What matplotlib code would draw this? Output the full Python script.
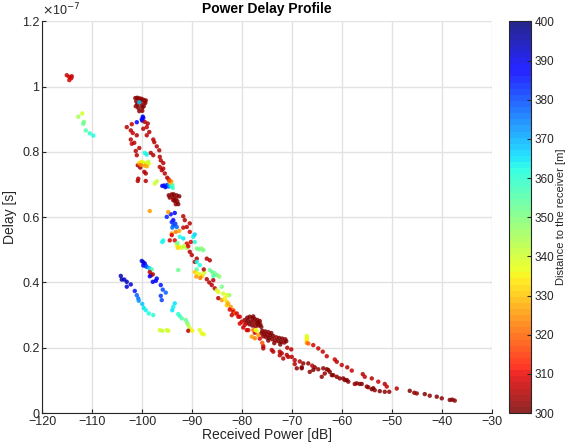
import matplotlib
matplotlib.use('Agg')
import matplotlib.pyplot as plt
import numpy as np

plt.rcParams['font.family'] = ['Liberation Sans', 'DejaVu Sans']

# (received power dB, delay x1e-7 s, distance m)
top_left = [(-115.1, 1.035, 307), (-114.6, 1.030, 307), (-114.2, 1.026, 307),
            (-114.6, 1.020, 308), (-114.1, 1.032, 307)]
green_trail = [(-112.8, 0.908, 345), (-112.0, 0.918, 340), (-111.7, 0.892, 350),
               (-111.8, 0.886, 352), (-111.3, 0.866, 356), (-110.5, 0.857, 360),
               (-109.8, 0.850, 362)]
top_cluster = [(-101.4, 0.965, 302), (-101.0, 0.966, 301), (-100.6, 0.964, 303),
               (-100.2, 0.963, 302), (-99.8, 0.960, 301), (-101.2, 0.955, 302),
               (-100.4, 0.956, 300), (-99.6, 0.954, 303), (-101.0, 0.946, 301),
               (-100.2, 0.945, 302), (-99.4, 0.950, 303), (-100.8, 0.935, 301),
               (-100.0, 0.936, 300), (-101.3, 0.940, 302), (-99.7, 0.940, 301),
               (-100.6, 0.925, 302), (-100.0, 0.926, 303), (-99.3, 0.958, 302),
               (-100.6, 0.952, 368)]
top_blue = [(-101.1, 0.891, 386), (-99.9, 0.908, 390), (-100.1, 0.900, 389),
            (-99.8, 0.904, 388), (-100.0, 0.896, 387)]
upper_red = [(-103.1, 0.876, 306), (-102.1, 0.885, 307), (-102.3, 0.866, 306),
             (-101.9, 0.858, 307), (-101.1, 0.851, 306), (-102.3, 0.838, 306),
             (-102.1, 0.825, 307), (-101.3, 0.803, 306), (-101.1, 0.790, 306),
             (-100.9, 0.759, 305), (-100.8, 0.718, 305), (-100.9, 0.711, 306),
             (-99.3, 0.711, 306), (-99.6, 0.739, 305), (-99.3, 0.734, 305),
             (-99.5, 0.892, 306), (-98.9, 0.887, 306), (-99.1, 0.876, 307),
             (-99.8, 0.871, 306), (-98.6, 0.861, 306), (-99.1, 0.851, 306),
             (-97.8, 0.838, 305), (-97.6, 0.830, 306), (-97.1, 0.817, 306),
             (-96.6, 0.805, 305), (-98.3, 0.797, 306), (-97.8, 0.790, 306),
             (-96.5, 0.785, 305), (-96.3, 0.774, 306), (-95.8, 0.766, 306),
             (-96.5, 0.754, 305), (-95.8, 0.749, 306), (-96.1, 0.744, 305),
             (-95.5, 0.734, 306), (-95.0, 0.721, 306), (-94.7, 0.715, 305),
             (-100.6, 0.812, 306), (-101.6, 0.828, 306), (-100.4, 0.752, 303)]
upper_mixed = [(-99.5, 0.797, 362), (-99.1, 0.792, 364),
               (-100.6, 0.766, 330), (-100.2, 0.770, 335), (-99.8, 0.768, 338),
               (-99.4, 0.764, 340), (-99.0, 0.766, 338), (-98.7, 0.764, 336),
               (-99.5, 0.758, 325), (-99.1, 0.756, 328), (-100.3, 0.760, 322),
               (-98.8, 0.770, 342), (-97.5, 0.703, 340), (-97.1, 0.710, 342)]
mid_blue = [(-96.0, 0.696, 388), (-95.6, 0.697, 386), (-95.2, 0.695, 383),
            (-95.0, 0.699, 380), (-94.7, 0.694, 375), (-94.5, 0.698, 370),
            (-94.2, 0.695, 362), (-94.0, 0.699, 355), (-94.4, 0.706, 330),
            (-94.2, 0.710, 325), (-94.6, 0.712, 318), (-93.9, 0.690, 358),
            (-95.4, 0.692, 385)]
mid_dark = [(-94.7, 0.667, 301), (-94.1, 0.670, 302), (-93.7, 0.670, 300),
            (-93.1, 0.667, 302), (-92.6, 0.664, 301), (-94.5, 0.660, 303),
            (-93.8, 0.660, 301), (-93.3, 0.657, 302), (-93.5, 0.650, 300),
            (-93.0, 0.649, 303), (-93.3, 0.640, 302), (-92.8, 0.640, 301),
            (-93.8, 0.652, 302)]
lower_blue = [(-94.3, 0.609, 385), (-93.5, 0.613, 388), (-95.1, 0.601, 383),
              (-93.8, 0.591, 386), (-94.1, 0.585, 384), (-93.4, 0.580, 382),
              (-93.8, 0.574, 380), (-93.1, 0.570, 378), (-94.0, 0.568, 376)]
middle_mix = [(-98.5, 0.619, 325), (-94.8, 0.616, 325), (-91.8, 0.603, 306),
              (-91.5, 0.591, 306), (-90.5, 0.581, 305), (-91.1, 0.570, 306),
              (-91.8, 0.568, 307), (-95.8, 0.529, 362), (-96.0, 0.524, 364),
              (-94.1, 0.550, 325), (-93.3, 0.555, 322), (-92.6, 0.558, 328),
              (-94.5, 0.529, 308), (-93.5, 0.529, 309), (-92.5, 0.540, 362),
              (-91.8, 0.535, 365), (-89.5, 0.524, 362), (-89.8, 0.540, 364),
              (-89.5, 0.547, 366), (-90.5, 0.555, 308), (-90.3, 0.524, 308),
              (-91.1, 0.519, 309), (-93.1, 0.514, 336), (-92.6, 0.510, 338),
              (-92.1, 0.506, 340), (-91.6, 0.512, 342), (-91.1, 0.506, 345),
              (-92.9, 0.506, 332), (-89.1, 0.504, 350), (-88.6, 0.502, 352),
              (-88.1, 0.504, 348), (-87.8, 0.499, 350), (-90.8, 0.511, 308),
              (-90.5, 0.494, 306), (-90.1, 0.484, 306), (-89.1, 0.473, 306),
              (-89.5, 0.463, 305), (-87.1, 0.473, 306), (-86.5, 0.468, 306),
              (-93.0, 0.521, 352), (-94.1, 0.545, 309)]
band_upper = [(-89.1, 0.463, 364), (-88.5, 0.453, 362), (-89.1, 0.440, 356),
              (-89.5, 0.432, 330), (-89.0, 0.428, 335), (-88.5, 0.425, 338),
              (-88.0, 0.420, 332), (-89.2, 0.418, 325), (-88.4, 0.414, 322),
              (-87.6, 0.430, 340), (-86.5, 0.438, 352), (-86.0, 0.432, 354),
              (-85.5, 0.428, 350), (-85.0, 0.422, 352), (-84.6, 0.418, 348),
              (-85.8, 0.420, 355), (-92.8, 0.438, 352), (-87.7, 0.440, 306),
              (-86.6, 0.400, 306), (-86.1, 0.392, 306), (-85.8, 0.407, 305),
              (-85.5, 0.382, 306), (-87.1, 0.410, 305), (-85.1, 0.376, 340),
              (-84.1, 0.387, 350), (-84.8, 0.371, 338), (-83.8, 0.366, 340),
              (-82.6, 0.361, 348), (-83.1, 0.361, 338), (-84.1, 0.346, 325),
              (-83.5, 0.351, 335), (-83.1, 0.341, 332), (-83.1, 0.330, 330),
              (-82.8, 0.335, 328), (-84.8, 0.352, 306), (-82.3, 0.325, 325),
              (-81.8, 0.315, 318), (-82.5, 0.317, 308), (-81.8, 0.310, 309),
              (-81.5, 0.305, 320)]
left_blue = [(-104.3, 0.420, 395), (-104.1, 0.409, 396), (-103.6, 0.409, 393),
             (-103.1, 0.402, 394), (-103.1, 0.387, 392), (-102.3, 0.394, 392),
             (-101.5, 0.374, 385), (-101.1, 0.361, 378), (-100.8, 0.351, 375),
             (-100.7, 0.344, 372), (-100.0, 0.334, 368), (-99.7, 0.322, 365),
             (-99.3, 0.315, 363), (-98.7, 0.305, 362), (-97.8, 0.300, 360)]
center_blue = [(-100.1, 0.466, 392), (-99.8, 0.462, 393), (-99.5, 0.458, 390),
               (-99.8, 0.452, 388), (-99.3, 0.450, 385), (-99.1, 0.448, 378),
               (-98.6, 0.444, 368), (-98.1, 0.440, 355), (-98.5, 0.432, 306),
               (-97.9, 0.425, 306), (-98.2, 0.422, 305), (-98.5, 0.419, 388),
               (-97.1, 0.412, 388), (-97.9, 0.402, 390), (-97.3, 0.405, 389),
               (-96.3, 0.392, 385), (-95.9, 0.378, 380), (-95.3, 0.369, 378),
               (-96.3, 0.359, 382), (-96.1, 0.346, 380)]
cyan_trail = [(-93.5, 0.336, 365), (-93.8, 0.325, 363), (-94.0, 0.315, 365),
              (-92.8, 0.303, 360), (-92.5, 0.297, 358), (-92.1, 0.290, 355),
              (-91.3, 0.285, 352), (-91.0, 0.276, 350), (-90.8, 0.269, 345),
              (-90.5, 0.259, 340), (-90.8, 0.252, 306), (-90.0, 0.252, 335),
              (-88.5, 0.254, 338), (-88.1, 0.244, 335), (-87.7, 0.241, 338),
              (-96.5, 0.254, 340), (-96.0, 0.252, 341), (-95.1, 0.254, 339),
              (-94.8, 0.252, 340)]
dense_a = [(-79.0, 0.292, 301), (-78.5, 0.295, 300), (-78.0, 0.290, 302),
           (-77.5, 0.288, 301), (-77.0, 0.285, 300), (-76.5, 0.282, 302),
           (-78.8, 0.283, 301), (-78.2, 0.280, 300), (-77.6, 0.278, 302),
           (-77.0, 0.275, 301), (-76.4, 0.272, 300), (-79.2, 0.276, 302),
           (-78.6, 0.272, 301), (-78.0, 0.268, 300), (-77.4, 0.266, 302),
           (-76.8, 0.268, 301), (-76.2, 0.264, 300), (-79.5, 0.285, 302),
           (-77.8, 0.296, 301), (-76.8, 0.278, 300)]
dense_b = [(-76.0, 0.252, 301), (-75.4, 0.250, 300), (-74.8, 0.248, 302),
           (-74.2, 0.245, 301), (-75.6, 0.242, 300), (-75.0, 0.240, 302),
           (-74.4, 0.238, 301), (-73.8, 0.236, 300), (-73.2, 0.232, 302),
           (-72.6, 0.230, 301), (-72.0, 0.228, 300), (-71.4, 0.226, 302),
           (-74.6, 0.230, 301), (-74.0, 0.226, 300), (-73.4, 0.222, 302),
           (-72.8, 0.220, 301), (-72.2, 0.218, 300), (-71.6, 0.216, 302),
           (-71.2, 0.220, 301), (-75.2, 0.232, 300), (-73.6, 0.214, 302),
           (-72.4, 0.210, 301), (-76.2, 0.244, 300), (-75.8, 0.235, 302),
           (-74.8, 0.222, 301)]
band_lower = [(-81.1, 0.305, 308), (-82.1, 0.300, 307), (-80.5, 0.295, 308),
              (-80.1, 0.280, 307), (-79.5, 0.270, 308), (-79.1, 0.254, 307),
              (-80.5, 0.274, 308), (-79.8, 0.262, 307), (-78.8, 0.254, 308),
              (-77.5, 0.246, 307), (-76.5, 0.228, 308), (-75.8, 0.205, 307),
              (-75.8, 0.198, 306), (-74.1, 0.193, 306), (-72.5, 0.188, 305),
              (-70.8, 0.172, 306), (-69.5, 0.162, 306), (-73.8, 0.188, 305),
              (-72.5, 0.177, 306), (-71.0, 0.200, 306), (-70.2, 0.195, 305),
              (-72.1, 0.183, 306), (-71.1, 0.178, 305), (-70.1, 0.172, 306),
              (-71.8, 0.167, 305), (-77.8, 0.254, 322), (-76.8, 0.239, 325),
              (-77.5, 0.229, 322), (-78.1, 0.234, 325), (-77.3, 0.254, 335),
              (-77.1, 0.252, 338), (-80.8, 0.295, 309), (-76.0, 0.215, 318)]
right_strand = [(-67.1, 0.236, 338), (-67.1, 0.230, 336), (-67.1, 0.224, 335),
                (-67.1, 0.215, 325), (-66.8, 0.213, 320), (-65.8, 0.208, 308),
                (-64.8, 0.198, 307), (-63.9, 0.188, 307), (-63.1, 0.174, 307),
                (-61.5, 0.164, 307), (-61.1, 0.157, 306), (-60.1, 0.147, 307),
                (-59.0, 0.140, 306), (-58.1, 0.130, 307), (-55.9, 0.119, 306),
                (-55.5, 0.111, 307), (-54.1, 0.106, 306), (-52.8, 0.096, 307),
                (-51.5, 0.089, 306), (-51.1, 0.081, 307), (-49.1, 0.075, 306)]
tail = [(-69.1, 0.137, 302), (-68.1, 0.137, 301), (-67.8, 0.152, 303),
        (-66.8, 0.152, 302), (-68.1, 0.140, 301), (-66.5, 0.126, 302),
        (-65.5, 0.140, 301), (-64.8, 0.134, 303), (-63.8, 0.137, 302),
        (-63.1, 0.134, 301), (-63.5, 0.121, 302), (-62.5, 0.126, 301),
        (-64.1, 0.111, 303), (-61.8, 0.116, 302), (-61.1, 0.111, 301),
        (-60.5, 0.106, 302), (-59.5, 0.101, 301), (-58.8, 0.096, 303),
        (-57.5, 0.089, 302), (-56.5, 0.089, 301), (-55.1, 0.081, 302),
        (-54.1, 0.073, 301), (-53.5, 0.070, 302), (-52.5, 0.067, 301),
        (-51.5, 0.065, 303), (-50.6, 0.065, 302), (-46.5, 0.068, 301),
        (-45.1, 0.060, 302), (-43.5, 0.058, 301), (-42.5, 0.053, 302),
        (-41.1, 0.050, 301), (-40.1, 0.045, 302), (-38.5, 0.040, 301),
        (-37.5, 0.038, 302), (-65.8, 0.132, 301), (-62.8, 0.132, 302),
        (-62.1, 0.116, 301), (-59.8, 0.106, 302), (-59.1, 0.101, 301),
        (-57.1, 0.091, 302), (-56.1, 0.089, 301), (-54.8, 0.079, 302),
        (-53.8, 0.076, 301), (-45.6, 0.062, 302), (-38.0, 0.041, 301),
        (-69.5, 0.150, 306), (-68.5, 0.158, 306), (-66.0, 0.145, 305)]

groups = [top_left, green_trail, top_cluster, top_blue, upper_red, upper_mixed,
          mid_blue, mid_dark, lower_blue, middle_mix, band_upper, left_blue,
          center_blue, cyan_trail, dense_a, dense_b, band_lower, right_strand,
          tail]
pts = np.array([p for g in groups for p in g])
power, delay, dist = pts[:, 0], pts[:, 1], pts[:, 2]

fig = plt.figure(figsize=(5.66, 4.43), dpi=100)
fig.patch.set_facecolor('white')
ax = fig.add_axes([0.0747, 0.0677, 0.795, 0.884])
cax = fig.add_axes([0.899, 0.0677, 0.040, 0.884])

sc = ax.scatter(power, delay, c=dist, cmap=plt.get_cmap('jet_r', 64),
                vmin=300, vmax=400, s=10, edgecolors='none', alpha=0.85, zorder=3)

ax.set_xlim(-120, -30)
ax.set_ylim(0, 1.2)
ax.set_xticks(np.arange(-120, -29, 10))
ax.set_yticks(np.arange(0, 1.21, 0.2))
ax.set_yticklabels(['0', '0.2', '0.4', '0.6', '0.8', '1', '1.2'])
ax.grid(True, color='#e2e2e2', lw=1)
ax.set_axisbelow(True)
ax.tick_params(direction='in', labelsize=9, length=3, pad=2, color='#262626',
               labelcolor='#262626')
for s in ['top', 'right']:
    ax.spines[s].set_visible(False)
for s in ['left', 'bottom']:
    ax.spines[s].set_color('#262626')
ax.set_xlabel('Received Power [dB]', fontsize=10, color='#262626', labelpad=0)
ax.set_ylabel('Delay [s]', fontsize=10, color='#262626', labelpad=4)
ax.set_title('Power Delay Profile', fontsize=10, fontweight='bold', pad=6)
ax.text(0.0, 1.008, r'$\times$10$^{-7}$', transform=ax.transAxes,
        fontsize=9, color='#262626', ha='left', va='bottom')

cb = fig.colorbar(sc, cax=cax)
cb.set_ticks(np.arange(300, 401, 10))
cb.ax.tick_params(direction='in', labelsize=8.5, length=3, pad=2,
                  color='#262626', labelcolor='#262626')
cb.outline.set_edgecolor('#262626')
cb.set_label('Distance to the receiver [m]', fontsize=8, color='#262626',
             labelpad=1)

fig.savefig('out.png', dpi=100)
